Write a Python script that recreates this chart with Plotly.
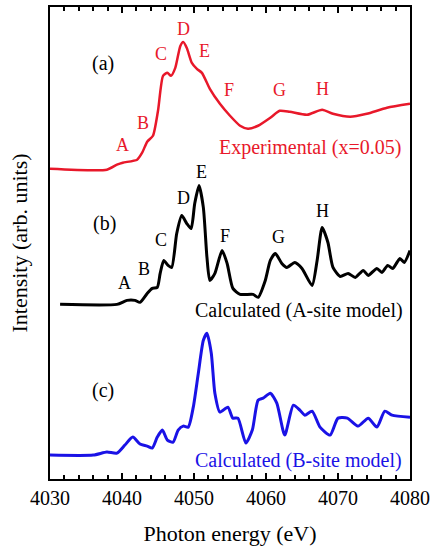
import plotly.graph_objects as go

# ---- data (energies in eV, intensities in arbitrary offset units) ----
exp_energy = [4030.0, 4037.9, 4039.3, 4040.1, 4042.1, 4042.8, 4043.5, 4044.3, 4045.0, 4045.7,
              4046.3, 4046.8, 4047.4, 4048.1, 4048.5, 4049.0, 4049.7, 4050.4, 4051.1, 4052.2,
              4053.6, 4055.0, 4056.4, 4057.5, 4058.9, 4060.6, 4061.9, 4063.3, 4065.7, 4067.8,
              4069.3, 4071.7, 4074.0, 4076.8, 4080.0]
exp_intensity = [3.11, 3.10, 3.15, 3.17, 3.20, 3.27, 3.38, 3.44, 3.69, 4.04,
                 4.07, 4.04, 4.12, 4.34, 4.38, 4.32, 4.17, 4.11, 4.07, 3.91,
                 3.76, 3.64, 3.54, 3.51, 3.54, 3.62, 3.69, 3.68, 3.65, 3.70,
                 3.66, 3.63, 3.66, 3.72, 3.76]

a_energy = [4031.4, 4039.3, 4040.7, 4041.8, 4042.5, 4043.5, 4044.2, 4044.9, 4045.3, 4045.8,
            4046.4, 4046.9, 4047.6, 4048.3, 4049.0, 4049.6, 4050.1, 4050.7, 4051.3, 4051.8,
            4052.2, 4052.9, 4053.9, 4054.6, 4055.4, 4056.4, 4058.2, 4058.9, 4059.9, 4060.6,
            4061.3, 4062.2, 4062.9, 4064.0, 4065.0, 4066.4, 4067.1, 4067.8, 4068.6, 4069.3,
            4070.3, 4071.4, 4072.4, 4073.5, 4074.2, 4075.4, 4076.1, 4076.9, 4077.6, 4078.6,
            4079.2, 4080.0]
a_intensity = [1.75, 1.75, 1.79, 1.79, 1.77, 1.86, 1.91, 1.92, 2.06, 2.19,
               2.14, 2.12, 2.46, 2.64, 2.56, 2.51, 2.76, 2.94, 2.72, 2.22,
               1.99, 2.06, 2.29, 2.16, 1.91, 1.85, 1.85, 1.82, 1.99, 2.19,
               2.26, 2.16, 2.12, 2.17, 2.11, 1.94, 2.19, 2.52, 2.37, 2.12,
               2.03, 2.06, 2.02, 2.09, 2.04, 2.11, 2.07, 2.14, 2.11, 2.21,
               2.17, 2.29]

b_energy = [4030.0, 4036.0, 4037.9, 4039.3, 4040.4, 4041.5, 4042.5, 4043.5, 4044.2, 4044.9,
            4045.6, 4046.3, 4047.1, 4047.8, 4048.5, 4049.2, 4049.9, 4050.6, 4051.3, 4051.8,
            4052.4, 4052.9, 4053.6, 4054.7, 4055.4, 4056.1, 4057.2, 4058.1, 4058.9, 4059.6,
            4060.6, 4061.5, 4062.6, 4063.8, 4064.7, 4065.4, 4066.4, 4067.5, 4068.9, 4070.0,
            4071.3, 4072.8, 4074.2, 4075.4, 4076.5, 4077.5, 4080.0]
b_intensity = [0.24, 0.24, 0.27, 0.26, 0.34, 0.42, 0.35, 0.33, 0.31, 0.42,
               0.49, 0.39, 0.37, 0.49, 0.53, 0.52, 0.72, 1.06, 1.39, 1.46,
               1.26, 0.86, 0.67, 0.72, 0.61, 0.61, 0.36, 0.49, 0.79, 0.81,
               0.86, 0.76, 0.44, 0.74, 0.69, 0.64, 0.68, 0.52, 0.44, 0.61,
               0.61, 0.53, 0.61, 0.52, 0.68, 0.64, 0.62]

peak_letters = ["A", "B", "C", "D", "E", "F", "G", "H"]
x_ticks = [4030, 4040, 4050, 4060, 4070, 4080]

RED = "#e8182a"
BLACK = "#000000"
BLUE = "#1a12e6"
SERIF = "Liberation Serif"

fig = go.Figure()
fig.add_trace(go.Scatter(x=exp_energy, y=exp_intensity, mode="lines",
                         line=dict(color=RED, width=2.5, shape="spline", smoothing=0.6)))
fig.add_trace(go.Scatter(x=a_energy, y=a_intensity, mode="lines",
                         line=dict(color=BLACK, width=3, shape="spline", smoothing=0.6)))
fig.add_trace(go.Scatter(x=b_energy, y=b_intensity, mode="lines",
                         line=dict(color=BLUE, width=3, shape="spline", smoothing=0.6)))

red_pos = [(4040.1, 3.35), (4042.9, 3.57), (4045.4, 4.26), (4048.5, 4.51),
           (4051.4, 4.29), (4054.9, 3.90), (4061.9, 3.90), (4067.9, 3.91)]
black_pos = [(4040.3, 1.96), (4043.1, 2.10), (4045.4, 2.40), (4048.5, 2.82),
             (4051.1, 3.08), (4054.3, 2.44), (4061.8, 2.43), (4067.8, 2.69)]

ann = []
for lab, (x, y) in zip(peak_letters, red_pos):
    ann.append(dict(x=x, y=y, text=lab, showarrow=False,
                    font=dict(family=SERIF, size=18, color=RED)))
for lab, (x, y) in zip(peak_letters, black_pos):
    ann.append(dict(x=x, y=y, text=lab, showarrow=False,
                    font=dict(family=SERIF, size=18, color=BLACK)))
ann += [
    dict(x=4037.4, y=4.16, text="(a)", showarrow=False, font=dict(family=SERIF, size=20, color=BLACK)),
    dict(x=4037.5, y=2.56, text="(b)", showarrow=False, font=dict(family=SERIF, size=20, color=BLACK)),
    dict(x=4037.4, y=0.89, text="(c)", showarrow=False, font=dict(family=SERIF, size=20, color=BLACK)),
    dict(x=4079.0, y=3.32, text="Experimental (x=0.05)", xanchor="right", showarrow=False,
         font=dict(family=SERIF, size=20, color=RED)),
    dict(x=4079.3, y=1.69, text="Calculated (A-site model)", xanchor="right", showarrow=False,
         font=dict(family=SERIF, size=20, color=BLACK)),
    dict(x=4079.2, y=0.19, text="Calculated (B-site model)", xanchor="right", showarrow=False,
         font=dict(family=SERIF, size=20, color=BLUE)),
]

fig.update_layout(
    width=433, height=550,
    margin=dict(l=50, r=23, t=7, b=71, autoexpand=False),
    plot_bgcolor="white", paper_bgcolor="white",
    showlegend=False,
    annotations=ann,
    font=dict(family=SERIF, color="black"),
    xaxis=dict(range=[4030, 4080], tickvals=x_ticks, ticktext=[str(v) for v in x_ticks],
               ticks="inside", ticklen=6, tickwidth=2, tickcolor="black",
               minor=dict(ticks="inside", dtick=2, ticklen=4, tickwidth=2, tickcolor="black"),
               showline=True, linewidth=2, linecolor="black", mirror="ticks",
               showgrid=False, zeroline=False, automargin=False,
               tickfont=dict(family=SERIF, size=20, color="black"),
               title=dict(text="Photon energy (eV)", font=dict(family=SERIF, size=22, color="black"),
                          standoff=18)),
    yaxis=dict(range=[0, 4.73], showticklabels=False, ticks="",
               showline=True, linewidth=2, linecolor="black", mirror=True,
               showgrid=False, zeroline=False, automargin=False,
               title=dict(text="Intensity (arb. units)", font=dict(family=SERIF, size=22, color="black"),
                          standoff=14)),
)

fig.write_html("out.html", config={"displayModeBar": False},
               post_script="document.body.style.margin='0';")
